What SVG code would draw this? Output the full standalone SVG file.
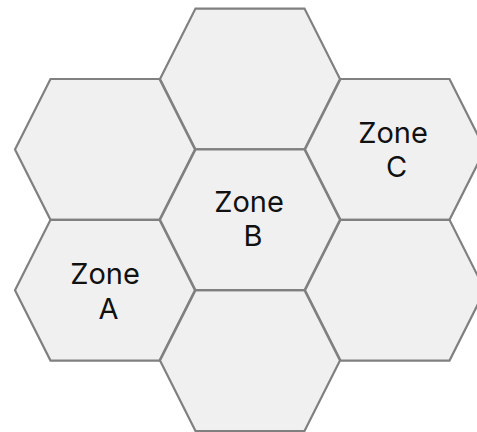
<svg xmlns="http://www.w3.org/2000/svg" xmlns:xlink="http://www.w3.org/1999/xlink" width="477" height="432" viewBox="0 0 477 432">
  <style>
    .cell { fill: #f0f0f0; stroke: #808080; stroke-width: 2.2; stroke-linejoin: miter; }
    .label { font-family: Inter, "Open Sans", "Liberation Sans", sans-serif; font-size: 29px; fill: #111111; text-anchor: middle; }
  </style>
  <defs>
    <!-- flat-topped hexagon centred on the origin -->
    <polygon id="hex" points="-54.5,-70.4 54.5,-70.4 90,0 54.5,70.4 -54.5,70.4 -90,0"/>
  </defs>
  <rect width="477" height="432" fill="#ffffff"/>

  <g id="hex-top" transform="translate(250,79)">
    <use xlink:href="#hex" class="cell"/>
  </g>
  <g id="hex-upper-left" transform="translate(105,149.4)">
    <use xlink:href="#hex" class="cell"/>
  </g>
  <g id="zone-c" transform="translate(395,149.4)">
    <use xlink:href="#hex" class="cell"/>
    <text class="label" x="-2" y="-6">Zone</text>
    <text class="label" x="1.5" y="27.5">C</text>
  </g>
  <g id="zone-a" transform="translate(105,290.2)">
    <use xlink:href="#hex" class="cell"/>
    <text class="label" x="0" y="-6.5">Zone</text>
    <text class="label" x="3.5" y="29">A</text>
  </g>
  <g id="hex-lower-right" transform="translate(395,290.2)">
    <use xlink:href="#hex" class="cell"/>
  </g>
  <g id="hex-bottom" transform="translate(250,360.6)">
    <use xlink:href="#hex" class="cell"/>
  </g>
  <g id="zone-b" transform="translate(250,219.8)">
    <use xlink:href="#hex" class="cell"/>
    <text class="label" x="-1" y="-7.5">Zone</text>
    <text class="label" x="3" y="26.2">B</text>
  </g>
  <g id="connectors"/>
</svg>
